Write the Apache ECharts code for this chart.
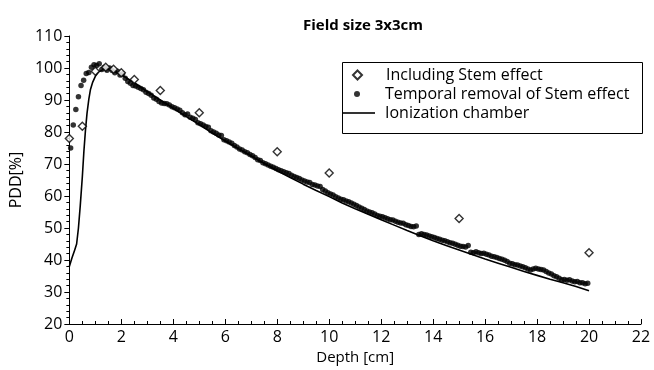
<!DOCTYPE html>
<html>
<head>
<meta charset="utf-8">
<script src="https://cdn.jsdelivr.net/npm/echarts@6/dist/echarts.min.js"></script>
<style>
  html, body { margin: 0; padding: 0; background: #fff; }
  #chart { width: 654px; height: 370px; }
</style>
</head>
<body>
<div id="chart"></div>
<script>
// Field size 3x3cm - depth dose curves
const xTicks = [0, 2, 4, 6, 8, 10, 12, 14, 16, 18, 20, 22];
const yTicks = [20, 30, 40, 50, 60, 70, 80, 90, 100, 110];

// diamonds: including stem effect
const stemData = [
  [0, 78.0], [0.5, 81.8], [1.0, 99.0], [1.4, 100.2], [1.7, 99.6], [2.0, 98.5],
  [2.5, 96.4], [3.5, 93.0], [5, 86.0], [8, 73.8], [10, 67.2], [15, 53.0], [20, 42.3]
];

// dots: temporal removal of stem effect
const removalData = [
  [0.05, 75.0], [0.15, 82.2], [0.25, 87.0], [0.35, 91.0], [0.45, 94.5], [0.55, 96.2],
  [0.65, 98.3], [0.75, 98.6], [0.85, 100.2], [0.95, 101.0], [1.05, 100.8], [1.15, 101.3],
  [1.25, 99.5], [1.35, 100.2], [1.45, 99.3], [1.55, 100.0], [1.65, 99.2], [1.75, 98.5],
  [1.85, 99.0], [1.95, 97.8], [2.05, 98.2], [2.15, 96.8], [2.25, 95.8], [2.35, 95.2],
  [2.45, 94.5], [2.55, 94.4], [2.65, 94.0], [2.75, 93.6], [2.85, 93.2], [2.95, 92.4],
  [3.05, 92.0], [3.15, 91.5], [3.25, 90.6], [3.35, 90.2], [3.45, 89.5], [3.55, 89.1],
  [3.65, 88.9], [3.75, 88.8], [3.85, 88.4], [3.95, 87.9], [4.05, 87.6], [4.15, 87.2],
  [4.25, 86.8], [4.35, 86.0], [4.45, 85.4], [4.55, 85.6], [4.65, 84.6], [4.75, 84.3],
  [4.85, 83.9], [4.95, 82.9], [5.05, 82.6], [5.15, 82.2], [5.25, 81.7], [5.35, 81.5],
  [5.45, 80.4], [5.55, 80.0], [5.65, 79.6], [5.75, 79.1], [5.85, 78.9], [5.95, 77.6],
  [6.05, 77.3], [6.15, 76.9], [6.25, 76.5], [6.35, 75.8], [6.45, 75.3], [6.55, 74.7],
  [6.65, 74.4], [6.75, 73.8], [6.85, 73.5], [6.95, 73.0], [7.05, 72.6], [7.15, 72.0],
  [7.25, 71.3], [7.35, 71.1], [7.45, 70.4], [7.55, 70.1], [7.65, 69.7], [7.75, 69.3],
  [7.85, 69.0], [7.95, 68.6], [8.05, 68.2], [8.15, 67.9], [8.25, 67.6], [8.35, 67.3],
  [8.45, 67.0], [8.55, 66.5], [8.65, 66.1], [8.75, 65.8], [8.85, 65.5], [8.95, 65.0],
  [9.05, 64.7], [9.15, 64.4], [9.25, 64.2], [9.35, 63.6], [9.45, 63.4], [9.55, 63.1],
  [9.65, 63.0], [9.75, 62.0], [9.85, 61.6], [9.95, 61.0], [10.05, 60.6], [10.15, 60.3],
  [10.25, 59.8], [10.35, 59.4], [10.45, 59.0], [10.55, 58.8], [10.65, 58.4], [10.75, 58.2],
  [10.85, 57.8], [10.95, 57.4], [11.05, 57.0], [11.15, 56.6], [11.25, 56.2], [11.35, 55.8],
  [11.45, 55.3], [11.55, 55.0], [11.65, 54.8], [11.75, 54.4], [11.85, 53.9], [11.95, 53.7],
  [12.05, 53.5], [12.15, 53.2], [12.25, 52.9], [12.35, 52.6], [12.45, 52.5], [12.55, 52.1],
  [12.65, 51.8], [12.75, 51.6], [12.85, 51.5], [12.95, 51.0], [13.05, 50.8], [13.15, 50.5],
  [13.25, 50.4], [13.35, 50.6], [13.45, 48.0], [13.55, 48.2], [13.65, 48.0], [13.75, 47.8],
  [13.85, 47.5], [13.95, 47.3], [14.05, 47.0], [14.15, 46.7], [14.25, 46.5], [14.35, 46.2],
  [14.45, 46.0], [14.55, 45.7], [14.65, 45.4], [14.75, 45.2], [14.85, 44.9], [14.95, 44.6],
  [15.05, 44.3], [15.15, 44.2], [15.25, 44.1], [15.35, 44.5], [15.45, 42.4], [15.55, 42.3],
  [15.65, 42.6], [15.75, 42.3], [15.85, 42.0], [15.95, 42.1], [16.05, 41.8], [16.15, 41.6],
  [16.25, 41.2], [16.35, 41.0], [16.45, 40.8], [16.55, 40.5], [16.65, 40.2], [16.75, 39.9],
  [16.85, 39.5], [16.95, 39.0], [17.05, 38.8], [17.15, 38.5], [17.25, 38.4], [17.35, 38.1],
  [17.45, 37.9], [17.55, 37.6], [17.65, 37.2], [17.75, 36.9], [17.85, 37.2], [17.95, 37.4],
  [18.05, 37.2], [18.15, 37.0], [18.25, 36.9], [18.35, 36.4], [18.45, 35.9], [18.55, 35.6],
  [18.65, 35.1], [18.75, 34.8], [18.85, 34.3], [18.95, 33.8], [19.05, 33.9], [19.15, 33.7],
  [19.25, 33.8], [19.35, 33.4], [19.45, 33.2], [19.55, 33.3], [19.65, 32.9], [19.75, 32.9],
  [19.85, 32.6], [19.95, 32.7]
];

// solid line: ionization chamber
const chamberData = [
  [0, 38.0], [0.1, 40.6], [0.2, 43.0], [0.28, 45.0], [0.35, 50.0], [0.42, 57.0],
  [0.5, 66.0], [0.56, 74.0], [0.62, 80.5], [0.68, 85.8], [0.75, 90.3], [0.81, 93.2],
  [0.9, 95.6], [1.0, 97.4], [1.13, 98.8], [1.3, 99.5], [1.5, 99.7], [1.7, 99.2],
  [2, 97.9], [2.5, 95.4], [3, 92.6], [3.5, 90.0], [4, 87.4], [4.5, 84.8], [5, 82.3],
  [5.5, 79.7], [6, 77.2], [6.5, 74.8], [7, 72.5], [7.5, 70.2], [8, 67.9], [8.5, 65.8],
  [9, 63.7], [9.5, 61.7], [10, 59.8], [10.5, 57.8], [11, 56.0], [11.5, 54.3], [12, 52.6],
  [12.5, 50.9], [13, 49.2], [13.5, 47.6], [14, 46.0], [14.5, 44.5], [15, 43.1], [15.5, 41.7],
  [16, 40.3], [16.5, 39.0], [17, 37.7], [17.5, 36.4], [18, 35.2], [18.5, 34.0], [19, 32.9],
  [19.5, 31.7], [20, 30.4]
];

const seriesNames = ['Including Stem effect', 'Temporal removal of Stem effect', 'Ionization chamber'];

const font = 'Open Sans';
const legendText = { fontFamily: font, fontSize: 16, color: '#000' };
const chart = echarts.init(document.getElementById('chart'), null, { renderer: 'canvas' });

const option = {
  animation: false,
  backgroundColor: '#fff',
  title: {
    text: 'Field size 3x3cm',
    left: 298,
    top: 13,
    textStyle: { fontFamily: font, fontSize: 15, fontWeight: 'bold', color: '#000' }
  },
  // one legend per entry so each icon gets its own size
  legend: [
    {
      left: 352, top: 67, padding: 0,
      data: [seriesNames[0]],
      itemWidth: 9, itemHeight: 9,
      textStyle: Object.assign({ padding: [0, 0, 0, 19] }, legendText)
    },
    {
      left: 354, top: 86, padding: 0,
      data: [seriesNames[1]],
      itemWidth: 6, itemHeight: 6,
      textStyle: Object.assign({ padding: [0, 0, 0, 20] }, legendText)
    },
    {
      left: 343, top: 105, padding: 0,
      data: [{ name: seriesNames[2], icon: 'rect' }],
      itemWidth: 32, itemHeight: 1.6,
      textStyle: Object.assign({ padding: [0, 0, 0, 5] }, legendText)
    }
  ],
  graphic: [
    {
      type: 'rect',
      shape: { x: 342.5, y: 62.5, width: 300, height: 71 },
      style: { fill: 'none', stroke: '#000', lineWidth: 1 },
      silent: true
    }
  ],
  grid: { left: 62, right: 13, top: 36, bottom: 46, containLabel: false },
  xAxis: {
    type: 'value',
    min: xTicks[0],
    max: xTicks[xTicks.length - 1],
    interval: 2,
    name: 'Depth [cm]',
    nameLocation: 'middle',
    nameGap: 25,
    nameTextStyle: { fontFamily: font, fontSize: 15, color: '#000' },
    axisLine: { show: true, lineStyle: { color: '#000', width: 1 } },
    axisTick: { show: true, inside: true, length: 5, lineStyle: { color: '#000' } },
    minorTick: { show: true, splitNumber: 4, length: 3, lineStyle: { color: '#000' } },
    axisLabel: { fontFamily: font, fontSize: 16, color: '#000', margin: 5 },
    splitLine: { show: false }
  },
  yAxis: {
    type: 'value',
    min: yTicks[0],
    max: yTicks[yTicks.length - 1],
    interval: 10,
    name: 'PDD[%]',
    nameLocation: 'middle',
    nameGap: 40,
    nameTextStyle: { fontFamily: font, fontSize: 16, color: '#000' },
    axisLine: { show: true, lineStyle: { color: '#000', width: 1 } },
    axisTick: { show: true, inside: false, length: 5, lineStyle: { color: '#000' } },
    minorTick: { show: true, splitNumber: 5, length: 3, lineStyle: { color: '#000' } },
    axisLabel: { fontFamily: font, fontSize: 16, color: '#000', margin: 7 },
    splitLine: { show: false }
  },
  series: [
    {
      name: seriesNames[2],
      type: 'line',
      data: chamberData,
      symbol: 'none',
      lineStyle: { color: '#000', width: 1.6 },
      itemStyle: { color: '#000' },
      z: 2
    },
    {
      name: seriesNames[1],
      type: 'scatter',
      data: removalData,
      symbol: 'circle',
      symbolSize: 5.5,
      itemStyle: { color: '#000' },
      z: 3
    },
    {
      name: seriesNames[0],
      type: 'scatter',
      data: stemData,
      symbol: 'diamond',
      symbolSize: 8,
      itemStyle: { color: '#fff', borderColor: '#000', borderWidth: 1.4 },
      z: 4
    }
  ]
};

chart.setOption(option);
</script>
</body>
</html>
